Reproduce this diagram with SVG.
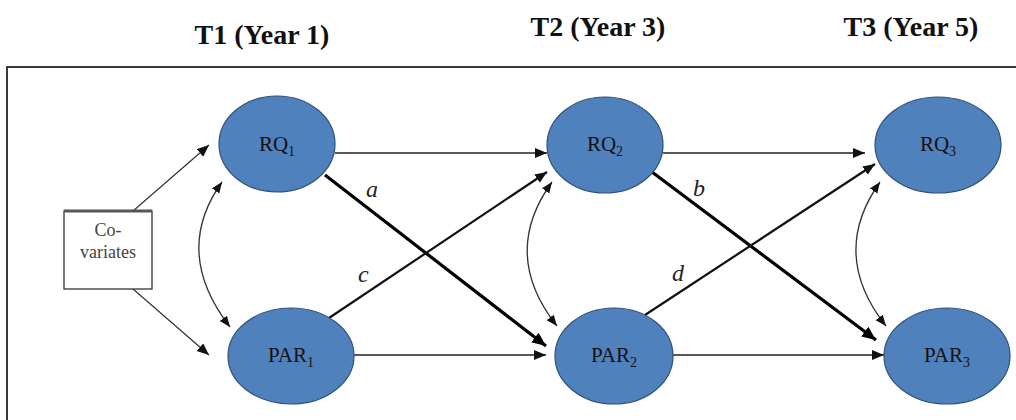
<svg xmlns="http://www.w3.org/2000/svg" width="1016" height="420" viewBox="0 0 1016 420">
<style>
text{font-family:"Liberation Serif","Times New Roman","DejaVu Serif",serif}
.title{font-weight:bold;font-size:28px;fill:#111;text-anchor:middle}
.node{fill:#4F81BD;stroke:#2F4F7A;stroke-width:1.2}
.lbl{font-size:21px;fill:#111;text-anchor:middle}
.sub{font-size:14px}
.path{font-style:italic;font-size:24px;fill:#222}
.covt{font-size:18px;fill:#444;text-anchor:middle}
.thin{fill:none;stroke:#222;stroke-width:1.6;marker-end:url(#ah)}
.thick{fill:none;stroke:#000;stroke-width:3.2;marker-end:url(#ahb)}
.mid{fill:none;stroke:#111;stroke-width:2.2;marker-end:url(#ah)}
.cov{fill:none;stroke:#333;stroke-width:1.2;marker-end:url(#ah)}
.curve{fill:none;stroke:#333;stroke-width:1.3;marker-start:url(#ah2);marker-end:url(#ah2)}
</style>
<defs>
<marker id="ah" markerUnits="userSpaceOnUse" markerWidth="14" markerHeight="12" refX="12" refY="5" orient="auto"><path d="M0,0 L12,5 L0,10 Z" fill="#111"/></marker>
<marker id="ahb" markerUnits="userSpaceOnUse" markerWidth="16" markerHeight="14" refX="14" refY="6" orient="auto"><path d="M0,0 L14,6 L0,12 Z" fill="#000"/></marker>
<marker id="ah2" markerUnits="userSpaceOnUse" markerWidth="14" markerHeight="12" refX="11" refY="4.5" orient="auto-start-reverse"><path d="M0,0 L11,4.5 L0,9 Z" fill="#111"/></marker>
</defs>
<rect x="0" y="0" width="1016" height="420" fill="#fff"/>
<g id="titles">
<text class="title" x="262" y="44">T1 (Year 1)</text>
<text class="title" x="598" y="36">T2 (Year 3)</text>
<text class="title" x="911" y="36">T3 (Year 5)</text>
</g>
<path d="M7,425 L7,67 L1020,67" fill="none" stroke="#3a3a3a" stroke-width="2"/>
<g id="connectors">
<line class="cov" x1="133" y1="211" x2="209" y2="145"/>
<line class="cov" x1="133" y1="289" x2="209" y2="355"/>
<path class="curve" d="M222,182 Q172,252 230,327"/>
<path class="curve" d="M552,182 Q500,254 557,326"/>
<path class="curve" d="M880,182 Q829,254 886,326"/>
<line class="thin" x1="335" y1="153" x2="547" y2="153"/>
<line class="thin" x1="354" y1="355" x2="546" y2="355"/>
<line class="thin" x1="663" y1="153" x2="865" y2="153"/>
<line class="thin" x1="673" y1="355" x2="884" y2="355"/>
<line class="thick" x1="325" y1="175" x2="546" y2="346"/>
<line class="mid" x1="329" y1="318" x2="547" y2="172"/>
<line class="thick" x1="652" y1="172" x2="876" y2="340"/>
<line class="mid" x1="645" y1="315" x2="875" y2="164"/>
<text class="path" x="366" y="197">a</text>
<text class="path" x="358" y="282">c</text>
<text class="path" x="693" y="196">b</text>
<text class="path" x="672" y="281">d</text>
</g>
<g id="covariates">
<rect x="64" y="211" width="88" height="78" fill="#fff" stroke="#333" stroke-width="1.3"/>
<line x1="64" y1="211" x2="152" y2="211" stroke="#555" stroke-width="3"/>
<text class="covt" x="108" y="236">Co-</text>
<text class="covt" x="108" y="258">variates</text>
</g>
<g id="RQ1"><ellipse class="node" cx="277" cy="144" rx="58" ry="48"/><text class="lbl" x="277" y="151">RQ<tspan class="sub" dy="5">1</tspan></text></g>
<g id="PAR1"><ellipse class="node" cx="291" cy="356" rx="63" ry="48"/><text class="lbl" x="291" y="362">PAR<tspan class="sub" dy="5">1</tspan></text></g>
<g id="RQ2"><ellipse class="node" cx="605" cy="145" rx="58" ry="48"/><text class="lbl" x="605" y="151">RQ<tspan class="sub" dy="5">2</tspan></text></g>
<g id="PAR2"><ellipse class="node" cx="614" cy="356" rx="59" ry="48"/><text class="lbl" x="614" y="362">PAR<tspan class="sub" dy="5">2</tspan></text></g>
<g id="RQ3"><ellipse class="node" cx="938" cy="145" rx="63" ry="48"/><text class="lbl" x="938" y="151">RQ<tspan class="sub" dy="5">3</tspan></text></g>
<g id="PAR3"><ellipse class="node" cx="947" cy="356" rx="63" ry="48"/><text class="lbl" x="947" y="362">PAR<tspan class="sub" dy="5">3</tspan></text></g>
</svg>
